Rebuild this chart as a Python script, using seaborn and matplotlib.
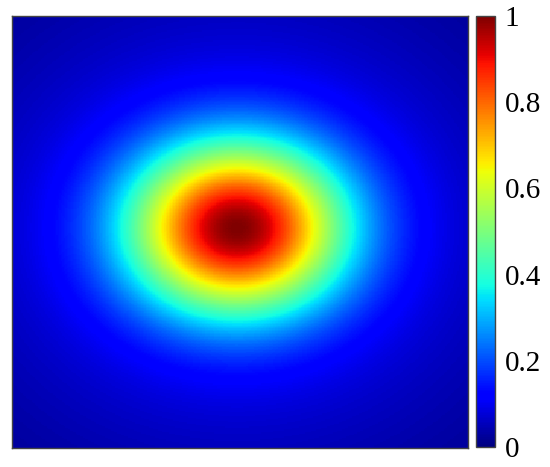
import numpy as np
import matplotlib
matplotlib.use('Agg')
import matplotlib.pyplot as plt
import seaborn as sns

# beam spot (plot spans -1..1 on both axes)
center_x = -0.013
center_y = 0.018
width_x = 0.468      # 1/e radius, horizontal
width_y = 0.39       # 1/e radius, vertical
halo_share = 0.13    # weak broad pedestal seen at the edges
halo_width = 1.2
n_grid = 300

cbar_ticks = [0, 0.2, 0.4, 0.6, 0.8, 1]
cbar_labels = ['0', '0.2', '0.4', '0.6', '0.8', '1']

xs = np.linspace(-1, 1, n_grid)
ys = np.linspace(1, -1, n_grid)   # top row first
X, Y = np.meshgrid(xs, ys)
r2 = ((X - center_x) / width_x) ** 2 + ((Y - center_y) / width_y) ** 2
h2 = ((X - center_x) / halo_width) ** 2 + ((Y - center_y) / (halo_width / 1.1)) ** 2
field = (1 - halo_share) * np.exp(-r2) + halo_share * np.exp(-h2)

sns.set_style('white')
plt.rcParams['font.family'] = ['Liberation Serif', 'DejaVu Serif']

fig = plt.figure(figsize=(5.5, 4.67), dpi=100)
ax = fig.add_axes([12 / 550, 1 - 448 / 467, 456 / 550, 432 / 467])
cax = fig.add_axes([476 / 550, 1 - 447 / 467, 19 / 550, 431 / 467])

sns.heatmap(field, ax=ax, cmap='jet', vmin=0, vmax=1, cbar=True, cbar_ax=cax,
            xticklabels=False, yticklabels=False, rasterized=True)

q = n_grid / 4
ax.set_xticks([q, 2 * q, 3 * q])
ax.set_yticks([q, 2 * q, 3 * q])
ax.tick_params(direction='in', length=4, width=0.6, color='#333333',
               top=True, right=True, bottom=True, left=True,
               labelbottom=False, labelleft=False)
for sp in ax.spines.values():
    sp.set_visible(True)
    sp.set_color('#444444')
    sp.set_linewidth(1.0)

cbar = ax.collections[0].colorbar
cbar.set_ticks(cbar_ticks)
cbar.set_ticklabels(cbar_labels)
cax.tick_params(direction='in', length=4, width=0.6, color='#333333',
                labelsize=21, labelcolor='black', pad=7)
cbar.outline.set_visible(True)
cbar.outline.set_edgecolor('#444444')
cbar.outline.set_linewidth(1.0)

fig.savefig('out.png', dpi=100)
